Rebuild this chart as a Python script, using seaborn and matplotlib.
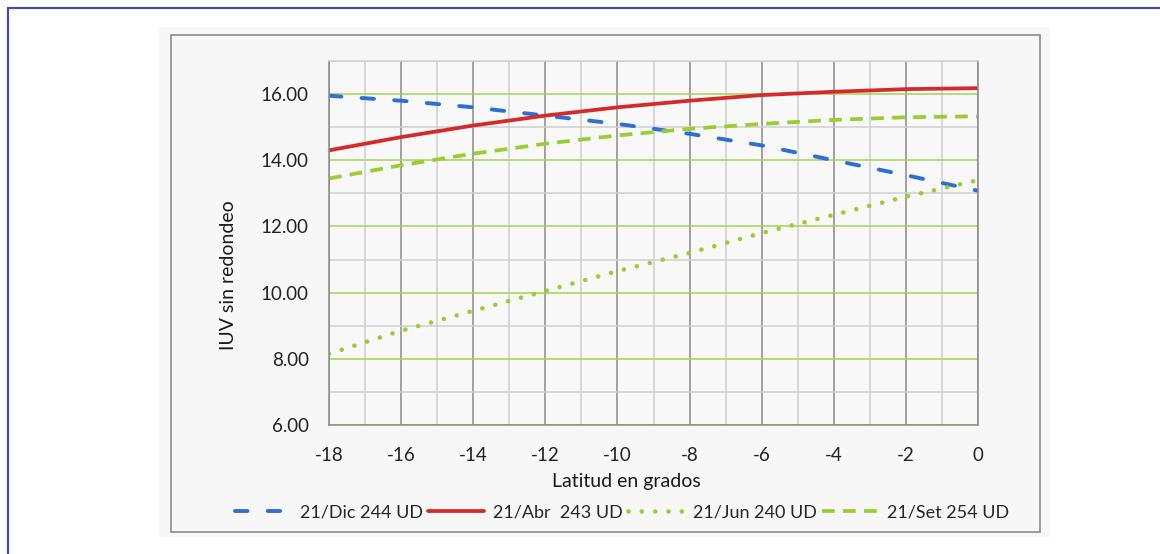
import matplotlib
matplotlib.use("Agg")
import matplotlib.pyplot as plt
from matplotlib.patches import Rectangle
from matplotlib.lines import Line2D
import seaborn as sns
import pandas as pd

# latitude (degrees) and UV index per date
latitud = [-18, -16, -14, -12, -10, -8, -6, -4, -2, 0]
iuv_dic = [15.95, 15.80, 15.60, 15.35, 15.10, 14.80, 14.45, 14.00, 13.55, 13.08]
iuv_abr = [14.30, 14.70, 15.05, 15.35, 15.60, 15.80, 15.97, 16.07, 16.15, 16.18]
iuv_jun = [8.15, 8.85, 9.45, 10.05, 10.65, 11.20, 11.80, 12.35, 12.90, 13.40]
iuv_set = [13.45, 13.85, 14.20, 14.50, 14.75, 14.95, 15.10, 15.22, 15.30, 15.33]

etiquetas = ["21/Dic 244 UD", "21/Abr  243 UD", "21/Jun 240 UD", "21/Set 254 UD"]
xticks = [-18, -16, -14, -12, -10, -8, -6, -4, -2, 0]
yticks = [6, 8, 10, 12, 14, 16]

df = pd.DataFrame({"lat": latitud, "dic": iuv_dic, "abr": iuv_abr,
                   "jun": iuv_jun, "set": iuv_set})

sns.set_style("white")
plt.rcParams["font.family"] = ["Lato", "DejaVu Sans"]
plt.rcParams["axes.unicode_minus"] = False

W, H = 1160, 554
fig = plt.figure(figsize=(W / 100, H / 100), dpi=100)
fig.patch.set_facecolor("white")

# outer frame (left + top only)
fig.add_artist(Line2D([8 / W, 8 / W], [0, 1 - 8 / H], color="#4a4a9e", lw=1.6))
fig.add_artist(Line2D([8 / W, 1], [1 - 8 / H, 1 - 8 / H], color="#4a4a9e", lw=1.6))

# chart panel background and border
fig.add_artist(Rectangle((159 / W, 1 - 537 / H), (1050 - 159) / W, (537 - 27) / H,
                         facecolor="#f7f7f7", edgecolor="none", zorder=0))
fig.add_artist(Rectangle((171 / W, 1 - 532 / H), (1040 - 171) / W, (532 - 35) / H,
                         facecolor="none", edgecolor="#8c8c8c", lw=1.2, zorder=1))

ax = fig.add_axes([329 / W, 1 - 425 / H, (978 - 329) / W, (425 - 61) / H])
ax.set_facecolor("#f8f8f8")
ax.set_zorder(2)

green = "#9acd32"
blue = "#2b70d2"
red = "#d42a2a"

dash_dic = (0, (3.2, 5.2))
dot_jun = (0, (0.01, 2.9))
dash_set = (0, (3.4, 2.2))

sns.lineplot(data=df, x="lat", y="dic", ax=ax, color=blue, lw=2.8,
             linestyle=dash_dic, dash_capstyle="round")
sns.lineplot(data=df, x="lat", y="abr", ax=ax, color=red, lw=2.7)
sns.lineplot(data=df, x="lat", y="jun", ax=ax, color=green, lw=3.3,
             linestyle=dot_jun, dash_capstyle="round")
sns.lineplot(data=df, x="lat", y="set", ax=ax, color=green, lw=2.7,
             linestyle=dash_set)

ax.set_xlim(-18, 0)
ax.set_ylim(6, 17)
ax.set_xticks(xticks)
ax.set_xticklabels([str(v) for v in xticks])
ax.set_yticks(yticks)
ax.set_yticklabels([f"{v:.2f}" for v in yticks])
ax.set_xticks(range(-17, 0, 2), minor=True)
ax.set_yticks([7, 9, 11, 13, 15, 17], minor=True)

ax.set_axisbelow(True)
ax.xaxis.grid(True, which="major", color="#8a8a8a", lw=1.1)
ax.xaxis.grid(True, which="minor", color="#cfcfcf", lw=1.1)
ax.yaxis.grid(True, which="major", color="#a8d050", lw=1.1)
ax.yaxis.grid(True, which="minor", color="#cfcfcf", lw=1.1)

ax.tick_params(which="major", length=6.5, width=1.0, color="#8a8a8a",
               labelsize=13.5, labelcolor="#222222")
ax.tick_params(axis="y", which="major", pad=8)
ax.tick_params(axis="x", which="major", pad=9)
ax.tick_params(which="minor", length=0)

for side in ["left", "bottom", "right"]:
    ax.spines[side].set_color("#8a8a8a")
    ax.spines[side].set_linewidth(1.1)
ax.spines["top"].set_color("#cfcfcf")
ax.spines["top"].set_linewidth(1.1)

ax.set_xlabel("Latitud en grados", fontsize=14, color="#1a1a1a")
ax.xaxis.set_label_coords((626 - 329) / (978 - 329), (425 - 482) / (425 - 61))
ax.xaxis.label.set_va("center")
ax.set_ylabel("IUV sin redondeo", fontsize=14, color="#1a1a1a")
ax.yaxis.set_label_coords((228 - 329) / (978 - 329), (425 - 275) / (425 - 61))
ax.yaxis.label.set_va("center")

handles = [
    Line2D([], [], color=blue, lw=2.8, linestyle=dash_dic, dash_capstyle="round"),
    Line2D([], [], color=red, lw=2.7),
    Line2D([], [], color=green, lw=3.3, linestyle=dot_jun, dash_capstyle="round"),
    Line2D([], [], color=green, lw=2.7, linestyle=dash_set),
]
fig.legend(handles, etiquetas, loc="center", bbox_to_anchor=(622 / W, 1 - 512 / H),
           ncol=4, frameon=False, fontsize=13, handlelength=3.1,
           handletextpad=0.5, columnspacing=0.3, borderpad=0)

fig.savefig("out.png", dpi=100, facecolor="white")
